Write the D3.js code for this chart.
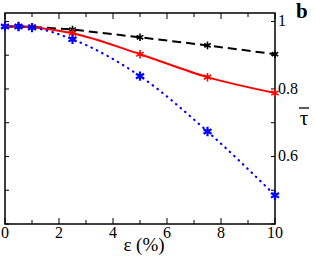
<!DOCTYPE html>
<html>
<head>
<meta charset="utf-8">
<script src="https://cdn.jsdelivr.net/npm/d3@7"></script>
<style>
body{margin:0;background:#fff;}
svg text{font-family:"Liberation Serif","Times New Roman",serif !important;}
</style>
</head>
<body>
<svg id="chart" width="315" height="265" font-family="Liberation Serif">
<text x="296" y="18" font-size="21" font-weight="bold" font-family="Liberation Serif">b</text>
<text x="304" y="125" text-anchor="middle" font-size="21" font-family="Liberation Serif">τ</text>
<text x="144" y="251" text-anchor="middle" font-size="19" font-family="Liberation Serif">ε (%)</text>
</svg>
<script>
// data
const eps=[0,0.5,1,2.5,5,7.5,10];
const black=[0.985,0.985,0.984,0.976,0.953,0.929,0.903];
const red=[0.985,0.985,0.983,0.965,0.903,0.835,0.788];
const blue=[0.985,0.985,0.982,0.947,0.838,0.674,0.485];
const xTicks=[0,2,4,6,8,10];
const yTicks=[0.6,0.8,1];

const W=315,H=265;
const margin={top:13,right:40,bottom:41,left:5};
const width=W-margin.left-margin.right,
    height=H-margin.top-margin.bottom;
const serif="Liberation Serif";

const svg=d3.select("#chart");
const g=svg.append("g")
    .attr("transform",`translate(${margin.left},${margin.top})`);

const x=d3.scaleLinear().domain([0,10]).range([0,width]);
const y=d3.scaleLinear().domain([0.4,1.025]).range([height,0]);

// frame
g.append("rect").attr("width",width).attr("height",height)
    .attr("fill","none").attr("stroke","#000").attr("stroke-width",1.5);

// ticks, all pointing inward
const xMinor=d3.range(0,11,1), yMinor=d3.range(0.4,1.01,0.1);
g.selectAll(".xb").data(xMinor).join("line")
    .attr("x1",d=>x(d)).attr("x2",d=>x(d))
    .attr("y1",height).attr("y2",d=>height-(d%2==0?6:4))
    .attr("stroke","#000");
g.selectAll(".xt").data(xMinor).join("line")
    .attr("x1",d=>x(d)).attr("x2",d=>x(d))
    .attr("y1",0).attr("y2",d=>(d%2==0?6:4))
    .attr("stroke","#000");
g.selectAll(".yl").data(yMinor).join("line")
    .attr("x1",0).attr("x2",4)
    .attr("y1",d=>y(d)).attr("y2",d=>y(d))
    .attr("stroke","#000");
g.selectAll(".yr").data(yMinor).join("line")
    .attr("x1",width).attr("x2",width-4)
    .attr("y1",d=>y(d)).attr("y2",d=>y(d))
    .attr("stroke","#000");

g.selectAll(".xlab").data(xTicks).join("text")
    .attr("x",d=>x(d)).attr("y",height+14)
    .attr("text-anchor","middle").attr("font-size",16)
    .attr("font-family",serif)
    .text(d=>d);
g.selectAll(".ylab").data(yTicks).join("text")
    .attr("x",width+3).attr("y",d=>y(d)+5)
    .attr("font-size",16)
    .attr("font-family",serif)
    .text(d=>d==1?"1":d3.format(".1f")(d));

// lines
const series=[
    {v:black,color:"#000",dash:"9,5",curve:d3.curveLinear,w:2,cap:"butt"},
    {v:red,color:"#ff0000",dash:null,curve:d3.curveMonotoneX,w:2,cap:"butt"},
    {v:blue,color:"#0000ff",dash:"0.5,5.5",curve:d3.curveMonotoneX,w:2.2,cap:"round"}
];
series.forEach(s=>{
    const line=d3.line().x((d,i)=>x(eps[i])).y(d=>y(d)).curve(s.curve);
    g.append("path").datum(s.v)
        .attr("d",line).attr("fill","none")
        .attr("stroke",s.color).attr("stroke-width",s.w)
        .attr("stroke-dasharray",s.dash)
        .attr("stroke-linecap",s.cap);
});
// markers
const sizes=[40,50,60];
series.forEach((s,k)=>{
    g.selectAll(null).data(s.v).join("path")
        .attr("transform",(d,i)=>`translate(${x(eps[i])},${y(d)})`)
        .attr("d",d3.symbol(d3.symbolAsterisk,sizes[k]))
        .attr("fill","none").attr("stroke",s.color)
        .attr("stroke-width",k==2?2.2:1.6);
});

// bar over tau
svg.append("line").attr("x1",299).attr("x2",309)
    .attr("y1",108).attr("y2",108)
    .attr("stroke","#000").attr("stroke-width",1.3);
</script>
</body>
</html>
